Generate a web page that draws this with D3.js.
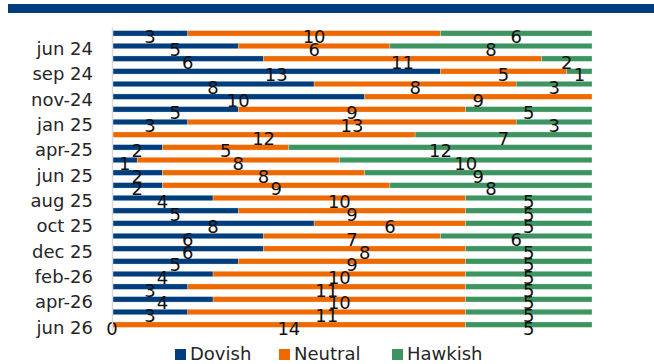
<!DOCTYPE html>
<html>
<head>
<meta charset="utf-8">
<script src="https://cdn.jsdelivr.net/npm/d3@7"></script>
<style>
  html, body { margin: 0; padding: 0; background: #fff; }
  svg { display: block; font-family: "DejaVu Sans", sans-serif; }
</style>
</head>
<body>
<svg id="chart" width="654" height="364"></svg>
<script>
// Meeting months, top to bottom
const categories = ["may 24","jun 24","jul 24","sep 24","oct 24","nov-24","dec 24","jan 25",
  "mar 25","apr-25","may 25","jun 25","jul 25","aug 25","sep 25","oct 25","nov 25","dec 25",
  "jan-26","feb-26","mar-26","apr-26","may-26","jun 26"];
// Only every other month is labelled on the axis
const tickLabels = ["jun 24","sep 24","nov-24","jan 25","apr-25","jun 25","aug 25","oct 25",
  "dec 25","feb-26","apr-26","jun 26"];

// Number of respondents in each camp (null = no entry)
const dovish  = [3,5,6,13,8,10,5,3,null,2,1,2,2,4,5,8,6,6,5,4,3,4,3,0];
const neutral = [10,6,11,5,8,9,9,13,12,5,8,8,9,10,9,6,7,8,9,10,11,10,11,14];
const hawkish = [6,8,2,1,3,null,5,3,7,12,10,9,8,5,5,5,6,5,5,5,5,5,5,5];

const seriesNames = ["Dovish","Neutral","Hawkish"];
const colors = ["#003D7C","#EE6A00","#3E9460"];

const rows = categories.map((c, i) => ({
  cat: c, Dovish: dovish[i], Neutral: neutral[i], Hawkish: hawkish[i]
}));

const svg = d3.select("#chart");

// header band
svg.append("rect")
  .attr("x", 8).attr("y", 4).attr("width", 646).attr("height", 9)
  .attr("fill", "#003D7C");

const x = d3.scaleLinear().domain([0, 1]).range([112, 592]);
const y = d3.scaleBand().domain(categories).range([27, 331])
  .paddingInner(0.57).paddingOuter(0.285);

const stack = d3.stack()
  .keys(seriesNames)
  .value((d, k) => d[k] == null ? 0 : d[k])
  .offset(d3.stackOffsetExpand);
const layers = stack(rows);

const g = svg.append("g");
layers.forEach((layer, li) => {
  g.append("g").selectAll("rect")
    .data(layer)
    .join("rect")
    .attr("x", d => x(d[0]))
    .attr("y", d => y(d.data.cat))
    .attr("width", d => Math.max(0, x(d[1]) - x(d[0])))
    .attr("height", y.bandwidth())
    .attr("fill", colors[li])
    .attr("stroke", "rgba(255,255,255,0.45)")
    .attr("stroke-width", 0.6);
});

// axis
const axis = d3.axisLeft(y)
  .tickValues(tickLabels)
  .tickSize(0)
  .tickSizeOuter(0)
  .tickPadding(19);
const ax = svg.append("g")
  .attr("transform", "translate(112,0)")
  .call(axis);
ax.select(".domain").attr("stroke", "#d9d9d9").attr("stroke-width", 1.5);
ax.selectAll("text")
  .attr("font-size", 18)
  .attr("fill", "#262626")
  .attr("dy", "0.5em")
  .style("font-family", "'DejaVu Sans', sans-serif");

// value labels
layers.forEach((layer, li) => {
  g.append("g").selectAll("text")
    .data(layer.filter(d => d.data[seriesNames[li]] != null))
    .join("text")
    .attr("x", d => (x(d[0]) + x(d[1])) / 2)
    .attr("y", d => y(d.data.cat) + y.bandwidth() / 2 + 3.5)
    .attr("text-anchor", "middle")
    .attr("dominant-baseline", "central")
    .attr("font-size", 18)
    .attr("fill", "#111")
    .text(d => d.data[seriesNames[li]]);
});

// legend
const legend = svg.append("g");
const legendItems = [
  {name: "Dovish", x: 175},
  {name: "Neutral", x: 279},
  {name: "Hawkish", x: 392}
];
legendItems.forEach((it, i) => {
  legend.append("rect")
    .attr("x", it.x).attr("y", 349).attr("width", 11).attr("height", 11)
    .attr("fill", colors[i]);
  legend.append("text")
    .attr("x", it.x + 15).attr("y", 360)
    .attr("font-size", 18)
    .attr("fill", "#262626")
    .text(it.name);
});
</script>
</body>
</html>
